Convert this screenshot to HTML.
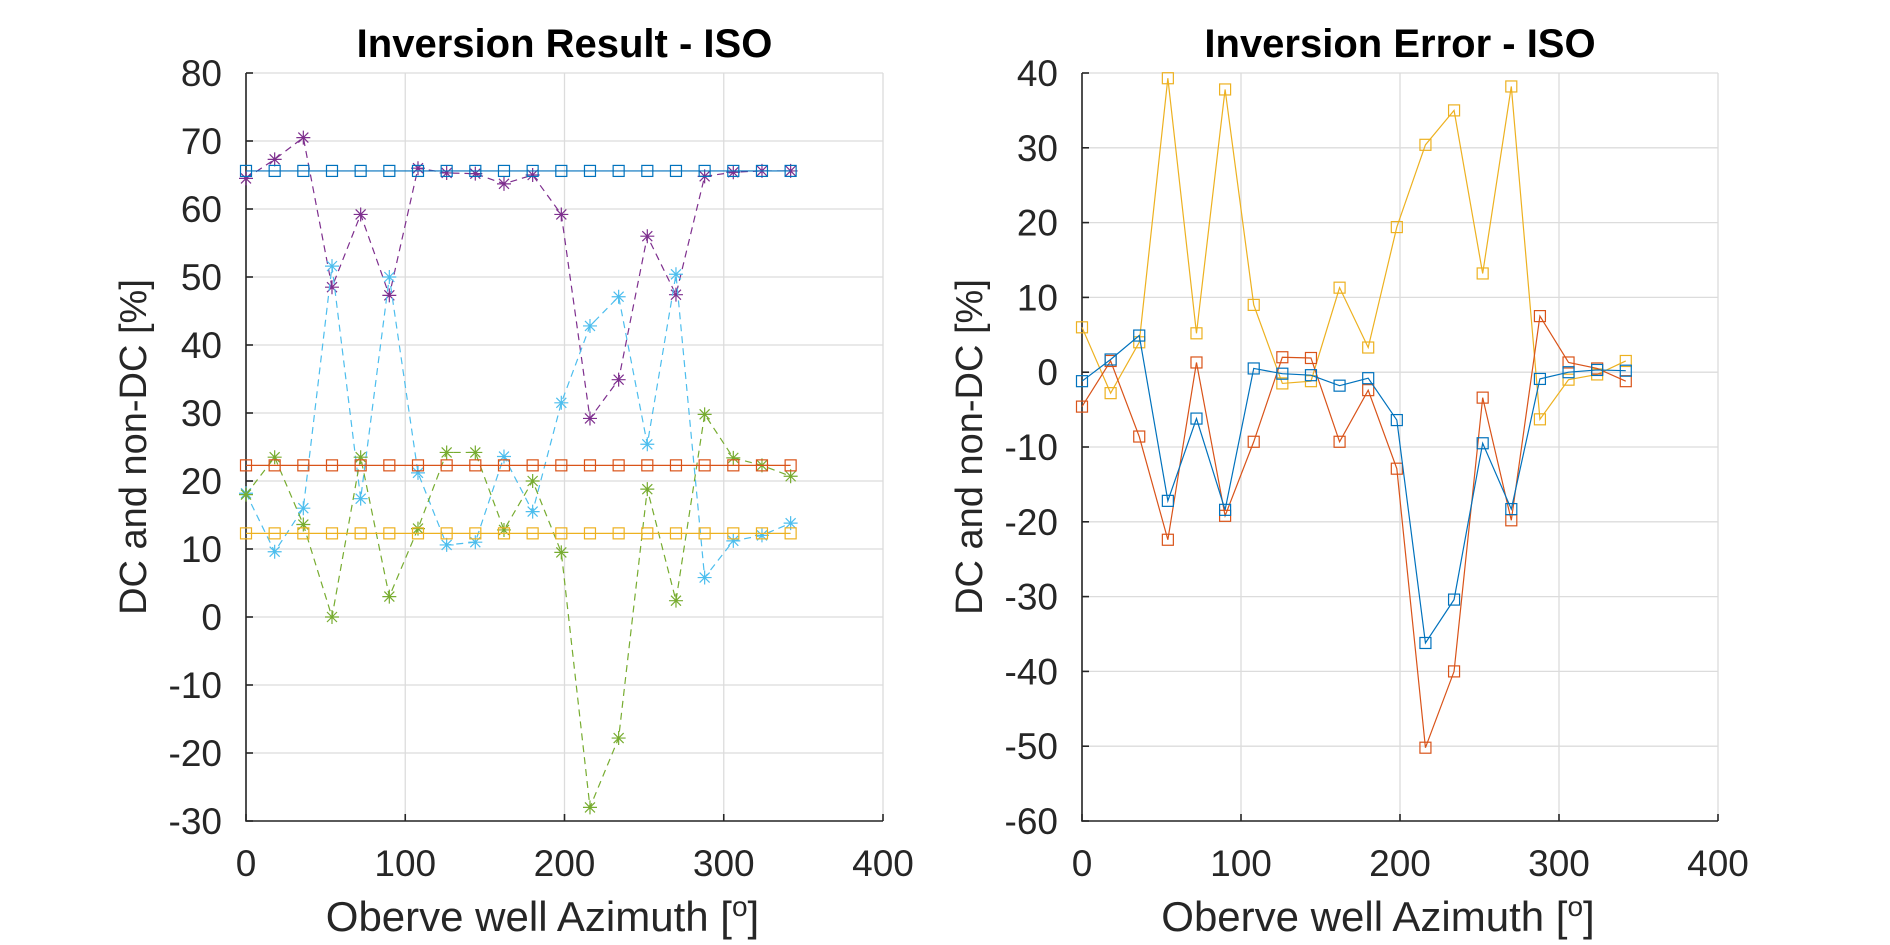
<!DOCTYPE html>
<html><head><meta charset="utf-8"><style>
body{margin:0;background:#fff;}
svg{display:block;font-family:"Liberation Sans",sans-serif;}
</style></head><body>
<svg id="fig" width="1890" height="945" viewBox="0 0 1890 945"></svg>
<script>
const azimuth=[0,18,36,54,72,90,108,126,144,162,180,198,216,234,252,270,288,306,324,342];
const leftTicksY=[80,70,60,50,40,30,20,10,0,-10,-20,-30];
const rightTicksY=[40,30,20,10,0,-10,-20,-30,-40,-50,-60];
const xTicks=[0,100,200,300,400];
const resBlue=[65.6,65.6,65.6,65.6,65.6,65.6,65.6,65.6,65.6,65.6,65.6,65.6,65.6,65.6,65.6,65.6,65.6,65.6,65.6,65.6];
const resRed=[22.3,22.3,22.3,22.3,22.3,22.3,22.3,22.3,22.3,22.3,22.3,22.3,22.3,22.3,22.3,22.3,22.3,22.3,22.3,22.3];
const resYellow=[12.3,12.3,12.3,12.3,12.3,12.3,12.3,12.3,12.3,12.3,12.3,12.3,12.3,12.3,12.3,12.3,12.3,12.3,12.3,12.3];
const resPurple=[64.5,67.3,70.5,48.5,59.2,47.3,66,65.3,65.2,63.7,65,59.2,29.2,34.9,56,47.4,64.8,65.4,65.6,65.6];
const resCyan=[18.2,9.6,16,51.6,17.4,50,21.2,10.6,11,23.6,15.5,31.5,42.8,47.1,25.4,50.4,5.8,11.2,12,13.8];
const resGreen=[18,23.5,13.6,0,23.5,3,13,24.2,24.2,12.8,20,9.5,-28,-17.8,18.8,2.4,29.8,23.4,22.3,20.7];
const errYellow=[6,-2.8,4,39.3,5.2,37.8,9,-1.5,-1.2,11.3,3.3,19.4,30.4,35,13.2,38.2,-6.3,-1,-0.3,1.5];
const errRed=[-4.6,1.5,-8.6,-22.4,1.3,-19.2,-9.3,2,1.9,-9.3,-2.4,-12.9,-50.2,-40,-3.4,-19.8,7.5,1.3,0.5,-1.2];
const errBlue=[-1.2,1.7,4.9,-17.2,-6.2,-18.4,0.5,-0.2,-0.4,-1.8,-0.8,-6.4,-36.2,-30.4,-9.5,-18.3,-0.9,0,0.3,0.2];

const NS="http://www.w3.org/2000/svg";
const svg=document.getElementById('fig');
function mk(tag,attrs,parent){const e=document.createElementNS(NS,tag);for(const k in attrs)e.setAttribute(k,attrs[k]);(parent||svg).appendChild(e);return e;}

function axes(name,x0,x1,y0,y1,ymin,ymax,yt,title){
  const g=mk('g',{});
  
  
  const sx=v=>x0+(v-0)/400*(x1-x0);
  const sy=v=>y1-(v-ymin)/(ymax-ymin)*(y1-y0);
  xTicks.forEach(t=>{const l=mk('line',{x1:sx(t),x2:sx(t),y1:y0,y2:y1,stroke:'#dcdcdc','stroke-width':1.3},g);
    });
  yt.forEach(t=>{const l=mk('line',{x1:x0,x2:x1,y1:sy(t),y2:sy(t),stroke:'#dcdcdc','stroke-width':1.3},g);
    });
  const ax=mk('path',{d:`M${x0},${y0}V${y1}H${x1}`,stroke:'#262626','stroke-width':1.6,fill:'none'},g);
  
  xTicks.forEach(t=>{mk('line',{x1:sx(t),x2:sx(t),y1:y1,y2:y1-7,stroke:'#262626','stroke-width':1.6},g);
    const tx=mk('text',{x:sx(t),y:y1+55,'font-size':37,fill:'#262626','text-anchor':'middle'},g);tx.textContent=t;
    });
  yt.forEach(t=>{mk('line',{x1:x0,x2:x0+7,y1:sy(t),y2:sy(t),stroke:'#262626','stroke-width':1.6},g);
    const tx=mk('text',{x:x0-24,y:sy(t)+13,'font-size':37,fill:'#262626','text-anchor':'end'},g);tx.textContent=t;
    });
  const tt=mk('text',{x:(x0+x1)/2,y:y0-16,'font-size':40,'font-weight':'bold',fill:'#000','text-anchor':'middle'},g);tt.textContent=title;
  
  const xl=mk('text',{x:(x0+x1)/2-22,y:y1+110,'font-size':42,fill:'#262626','text-anchor':'middle'},g);
  xl.innerHTML='Oberve well Azimuth [<tspan dy="-15" font-size="28">o</tspan><tspan dy="15">]</tspan>';
  
  const yl=mk('text',{x:0,y:0,'font-size':38,fill:'#262626','text-anchor':'middle',transform:`translate(${x0-100},${(y0+y1)/2}) rotate(-90)`},g);
  yl.textContent='DC and non-DC [%]';
  
  return {g,sx,sy};
}
function series(ax,vals,color,marker,dashed,name){
  const g=mk('g',{},ax.g);
  
  
  const pts=vals.map((v,i)=>[ax.sx(azimuth[i]),ax.sy(v)]);
  mk('polyline',{points:pts.map(p=>p.join(',')).join(' '),fill:'none',stroke:color,'stroke-width':1.2,'stroke-dasharray':dashed?'7,5':'none'},g);
  pts.forEach(p=>{
    if(marker==='sq'){mk('rect',{x:p[0]-5.5,y:p[1]-5.5,width:11,height:11,fill:'none',stroke:color,'stroke-width':1.2},g);}
    else{const r=7;const d=`M${p[0]-r},${p[1]}H${p[0]+r}M${p[0]},${p[1]-r}V${p[1]+r}M${p[0]-5},${p[1]-5}L${p[0]+5},${p[1]+5}M${p[0]-5},${p[1]+5}L${p[0]+5},${p[1]-5}`;
      mk('path',{d,stroke:color,'stroke-width':1.2,fill:'none'},g);}
  });
}
const L=axes('inversion-result-chart',246,883,73,821,-30,80,leftTicksY,'Inversion Result - ISO');
series(L,resPurple,'#7E2F8E','star',true,'series-purple');
series(L,resCyan,'#4DBEEE','star',true,'series-cyan');
series(L,resGreen,'#77AC30','star',true,'series-green');
series(L,resBlue,'#0072BD','sq',false,'series-blue');
series(L,resRed,'#D95319','sq',false,'series-red');
series(L,resYellow,'#EDB120','sq',false,'series-yellow');
const R=axes('inversion-error-chart',1082,1718,73,821,-60,40,rightTicksY,'Inversion Error - ISO');
series(R,errYellow,'#EDB120','sq',false,'error-yellow');
series(R,errRed,'#D95319','sq',false,'error-red');
series(R,errBlue,'#0072BD','sq',false,'error-blue');
</script>
</body></html>
